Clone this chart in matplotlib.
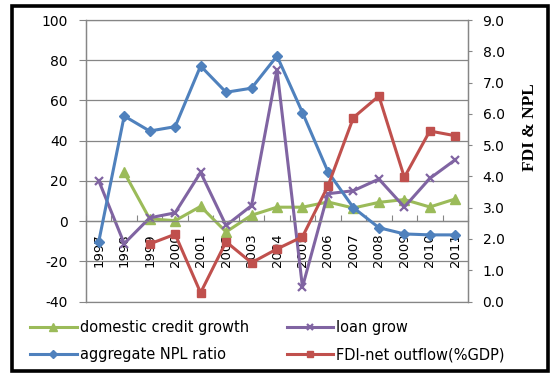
import numpy as np
import matplotlib
matplotlib.use("Agg")
import matplotlib.pyplot as plt
from matplotlib.patches import Rectangle
from matplotlib.ticker import FormatStrFormatter

# Data
years = ["1997", "1998", "1999", "2000", "2001", "2002", "2003", "2004",
         "2005", "2006", "2007", "2008", "2009", "2010", "2011"]
credit_growth = [np.nan, 24.2, 1.1, 0.2, 7.3, -5.4, 2.9, 6.9,
                 6.9, 9.5, 6.5, 9.3, 10.7, 7.0, 11.0]
loan_grow = [20.1, -11.2, 1.6, 4.1, 24.2, -2.2, 7.7, 75.2,
             -32.8, 13.6, 15.1, 20.9, 7.0, 21.2, 30.5]
npl_ratio = [1.91, 5.93, 5.45, 5.59, 7.53, 6.69, 6.82, 7.85,
             6.04, 4.15, 3.00, 2.36, 2.16, 2.13, 2.13]
fdi_outflow = [np.nan, np.nan, 1.84, 2.15, 0.28, 1.91, 1.24, 1.68,
               2.07, 3.69, 5.88, 6.57, 3.97, 5.45, 5.30]

GREEN = "#9BBB59"
PURPLE = "#8064A2"
BLUE = "#4F81BD"
RED = "#C0504D"
GRID = "#868686"

plt.rcParams["font.family"] = ["DejaVu Sans"]
plt.rcParams["axes.unicode_minus"] = False

fig = plt.figure(figsize=(5.58, 3.81), dpi=100)
ax = fig.add_axes([86 / 558, 1 - 301.5 / 381, 382 / 558, 281.5 / 381])
ax2 = ax.twinx()

x = np.arange(len(years))
lw = 2.2

l1, = ax.plot(x, credit_growth, color=GREEN, lw=lw, marker="^", ms=6.5,
              label="domestic credit growth")
l3, = ax.plot(x, loan_grow, color=PURPLE, lw=lw, marker="x", ms=6, mew=1.6,
              label="loan grow")
l2, = ax2.plot(x, npl_ratio, color=BLUE, lw=lw, marker="D", ms=5.5,
               label="aggregate NPL ratio")
l4, = ax2.plot(x, fdi_outflow, color=RED, lw=lw, marker="s", ms=5.5,
               label="FDI-net outflow(%GDP)")

# left axis
ax.set_ylim(-40, 100)
ax.set_yticks(np.arange(-40, 101, 20))
ax.yaxis.grid(True, color=GRID, lw=0.9)
ax.axhline(-40, color=GRID, lw=0.9, clip_on=False, zorder=0.5)
ax.axhline(100, color=GRID, lw=0.9, clip_on=False, zorder=0.5)
ax.set_axisbelow(True)
ax.tick_params(axis="y", direction="out", length=5, width=0.8, color=GRID,
               pad=8, labelsize=10)

# category axis crossing at zero
ax.set_xlim(-0.5, len(years) - 0.5)
ax.spines["bottom"].set_position(("data", 0))
ax.set_xticks(np.arange(-0.5, len(years), 1))
ax.set_xticklabels([])
ax.set_xticks(x, years, minor=True)
ax.tick_params(axis="x", which="major", direction="in", length=4,
               width=0.8, color=GRID)
ax.tick_params(axis="x", which="minor", length=0, pad=9, labelsize=9.5,
               labelrotation=90)
for lab in ax.get_xticklabels(minor=True):
    lab.set_va("top")

for sp in ["top"]:
    ax.spines[sp].set_visible(False)
    ax2.spines[sp].set_visible(False)
for a in (ax, ax2):
    for sp in ["left", "right", "bottom"]:
        a.spines[sp].set_color(GRID)
        a.spines[sp].set_linewidth(0.9)
ax2.spines["bottom"].set_visible(False)

# right axis
ax2.set_ylim(0, 9)
ax2.set_yticks(np.arange(0, 9.1, 1))
ax2.yaxis.set_major_formatter(FormatStrFormatter("%.1f"))
ax2.tick_params(axis="y", direction="out", length=3, width=0.8, color=GRID,
                pad=7.5, labelsize=10)

fig.text(530 / 558, 1 - 127 / 381, "FDI & NPL", rotation=90,
         ha="center", va="center", fontsize=12.5, fontweight="bold",
         family="Liberation Serif")

fig.legend(handles=[l1, l2, l3, l4], ncol=2, loc="upper left",
           bbox_to_anchor=(30 / 558, 1 - 320 / 381), frameon=False,
           borderpad=0, borderaxespad=0, handlelength=3.2,
           handletextpad=0.2, columnspacing=2.6, labelspacing=0.85,
           numpoints=1, markerscale=0.8, fontsize=10.5)

# chart border
fig.patches.append(Rectangle((12 / 558, 1 - 371 / 381), 536 / 558,
                             365.5 / 381, transform=fig.transFigure,
                             fill=False, edgecolor="black", lw=2.6))

fig.savefig("out.png", dpi=100)
